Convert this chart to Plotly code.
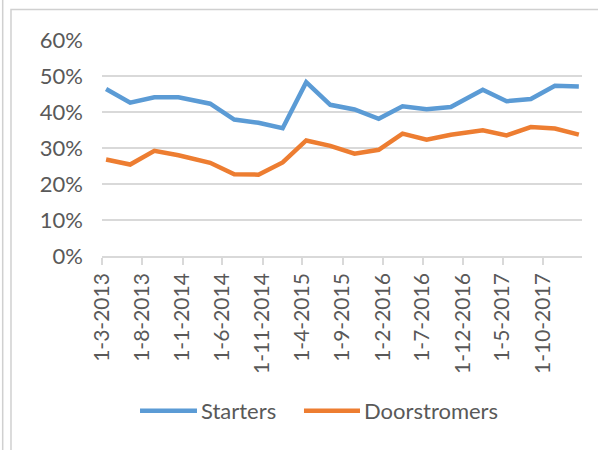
import plotly.graph_objects as go

dates = ["2013-03-01", "2013-06-01", "2013-09-01", "2013-12-01",
         "2014-04-01", "2014-07-01", "2014-10-01", "2015-01-01",
         "2015-04-01", "2015-07-01", "2015-10-01", "2016-01-01",
         "2016-04-01", "2016-07-01", "2016-10-01", "2017-02-01",
         "2017-05-01", "2017-08-01", "2017-11-01", "2018-02-01"]
starters = [0.464, 0.426, 0.441, 0.441, 0.423, 0.379, 0.370, 0.355,
            0.483, 0.420, 0.407, 0.381, 0.416, 0.408, 0.414, 0.462,
            0.430, 0.436, 0.473, 0.471]
doorstromers = [0.268, 0.254, 0.292, 0.280, 0.259, 0.227, 0.226, 0.260,
                0.321, 0.306, 0.284, 0.295, 0.340, 0.323, 0.337, 0.349,
                0.335, 0.358, 0.354, 0.337]
series_names = ["Starters", "Doorstromers"]
series_colors = ["#5b9bd5", "#ed7d31"]

FONT = "Lato"
TXT = "#595959"
GRID = "#d9d9d9"

fig = go.Figure()
for name, vals, col in zip(series_names, [starters, doorstromers], series_colors):
    fig.add_trace(go.Scatter(
        x=dates, y=vals, name=name, mode="lines",
        xperiod="M1", xperiodalignment="middle",
        line=dict(color=col, width=4.5),
        showlegend=False,
        hovertemplate="%{x|%-d-%-m-%Y}: %{y:.1%}<extra>" + name + "</extra>",
    ))

# legend drawn as keys + labels (Excel-style long line keys)
legend_key_x = [(0.0792, 0.1979), (0.4208, 0.5375)]
legend_y = -0.716
shapes = [
    dict(type="rect", xref="paper", yref="paper",
         x0=-0.1896, x1=1.1, y0=-1.2, y1=1.141,
         line=dict(color="#d0d0d0", width=1.5), layer="below"),
    dict(type="line", xref="paper", yref="paper",
         x0=-0.2069, x1=-0.2069, y0=-1.2, y1=1.2,
         line=dict(color="#d0d0d0", width=1.5), layer="below"),
]
annotations = []
for (x0, x1), name, col in zip(legend_key_x, series_names, series_colors):
    shapes.append(dict(type="line", xref="paper", yref="paper",
                       x0=x0, x1=x1, y0=legend_y, y1=legend_y,
                       line=dict(color=col, width=4.5)))
    annotations.append(dict(xref="paper", yref="paper", x=x1 + 0.004, y=legend_y,
                            xanchor="left", yanchor="middle", showarrow=False,
                            text=name, font=dict(family=FONT, size=22, color=TXT)))

fig.update_layout(
    width=598, height=450,
    margin=dict(l=102, r=16, t=40, b=194),
    paper_bgcolor="white", plot_bgcolor="white",
    font=dict(family=FONT, color=TXT, size=21),
    showlegend=False,
    xaxis=dict(
        type="date",
        range=["2013-03-01", "2018-02-27"],
        tick0="2013-03-01", dtick="M5",
        tickformat="%-d-%-m-%Y",
        tickangle=-90,
        automargin=False,
        showgrid=False, zeroline=False,
        showline=True, linecolor=GRID, linewidth=1.5,
        ticks="outside", ticklen=7, tickcolor=GRID, tickwidth=1.5,
        tickfont=dict(family=FONT, size=21, color=TXT),
    ),
    yaxis=dict(
        range=[0, 0.6], dtick=0.1, tickformat=".0%",
        automargin=False,
        showgrid=True, gridcolor=GRID, gridwidth=1.5,
        zeroline=False, showline=False, ticks="",
        ticklabelstandoff=18,
        tickfont=dict(family=FONT, size=22, color=TXT),
    ),
    shapes=shapes,
    annotations=annotations,
)

fig.write_html("out.html",
               config={"displayModeBar": False},
               post_script="document.body.style.margin='0';document.body.style.overflow='hidden';")
